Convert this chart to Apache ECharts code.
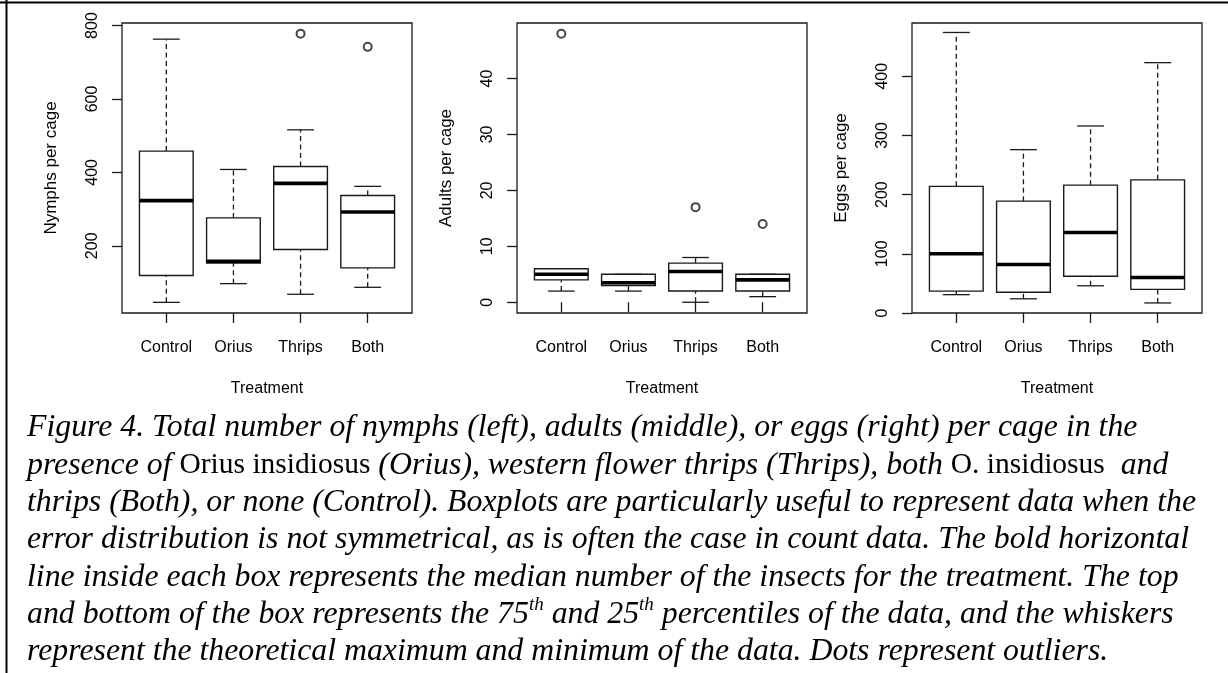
<!DOCTYPE html>
<html>
<head>
<meta charset="utf-8">
<script src="https://cdn.jsdelivr.net/npm/echarts@6/dist/echarts.min.js"></script>
<style>
html,body{margin:0;padding:0;background:#fff;}
#chart{width:1228px;height:673px;}
</style>
</head>
<body>
<div id="chart"></div>
<script>
// ---- data ----
var categories = ['Control', 'Orius', 'Thrips', 'Both'];

var nymphsLow    = [46, 97, 68, 87];
var nymphsQ1     = [119, 153, 190, 140];
var nymphsMedian = [323, 158, 370, 292];
var nymphsQ3     = [458, 276, 416, 337];
var nymphsHigh   = [763, 408, 516, 362];
var nymphsOutlierGroups = ['Thrips', 'Both'];
var nymphsOutlierValues = [778, 742];
var nymphsTicks = [200, 400, 600, 800];

var adultsLow    = [2, 2, 0, 1];
var adultsQ1     = [4, 3, 2, 2];
var adultsMedian = [5, 3.5, 5.5, 4];
var adultsQ3     = [6, 5, 7, 5];
var adultsHigh   = [6, 5, 8, 5];
var adultsOutlierGroups = ['Control', 'Thrips', 'Both'];
var adultsOutlierValues = [48, 17, 14];
var adultsTicks = [0, 10, 20, 30, 40];

var eggsLow    = [31, 24, 46, 17];
var eggsQ1     = [37, 35, 62, 40];
var eggsMedian = [100, 82, 136, 60];
var eggsQ3     = [214, 189, 216, 225];
var eggsHigh   = [474, 276, 316, 423];
var eggsOutlierGroups = [];
var eggsOutlierValues = [];
var eggsTicks = [0, 100, 200, 300, 400];

var panelTitles = ['Nymphs per cage', 'Adults per cage', 'Eggs per cage'];
var xTitle = 'Treatment';

var captionLines = [
  '{i|Figure 4. Total number of nymphs (left), adults (middle), or eggs (right) per cage in the}',
  '{i|presence of }{n|Orius insidiosus}{i| (Orius), western flower thrips (Thrips), both }{n|O. insidiosus}{i|  and}',
  '{i|thrips (Both), or none (Control). Boxplots are particularly useful to represent data when the}',
  '{i|error distribution is not symmetrical, as is often the case in count data. The bold horizontal}',
  '{i|line inside each box represents the median number of the insects for the treatment. The top}',
  '{i|and bottom of the box represents the 75}{s|th}{i| and 25}{s|th}{i| percentiles of the data, and the whiskers}',
  '{i|represent the theoretical maximum and minimum of the data. Dots represent outliers.}'
];

// ---- build ----
var INK = '#1a1a1a';
var FONT = 'Liberation Sans, Arial, sans-serif';

function boxRows(lo, q1, md, q3, hi) {
  return categories.map(function (c, i) { return [i + 1, lo[i], q1[i], md[i], q3[i], hi[i]]; });
}
function outRows(groups, vals) {
  return groups.map(function (g, i) { return [categories.indexOf(g) + 1, vals[i]]; });
}

var panels = [
  { rows: boxRows(nymphsLow, nymphsQ1, nymphsMedian, nymphsQ3, nymphsHigh), outs: outRows(nymphsOutlierGroups, nymphsOutlierValues), ticks: nymphsTicks, min: 17, max: 807, left: 122 },
  { rows: boxRows(adultsLow, adultsQ1, adultsMedian, adultsQ3, adultsHigh), outs: outRows(adultsOutlierGroups, adultsOutlierValues), ticks: adultsTicks, min: -1.92, max: 49.92, left: 517 },
  { rows: boxRows(eggsLow, eggsQ1, eggsMedian, eggsQ3, eggsHigh), outs: outRows(eggsOutlierGroups, eggsOutlierValues), ticks: eggsTicks, min: 0, max: 490, left: 912 }
];

function renderBox(params, api) {
  var x = api.value(0);
  var lo = api.value(1), q1 = api.value(2), md = api.value(3), q3 = api.value(4), hi = api.value(5);
  var pLo = api.coord([x, lo]), pQ1 = api.coord([x, q1]), pMd = api.coord([x, md]);
  var pQ3 = api.coord([x, q3]), pHi = api.coord([x, hi]);
  var half = api.size([0.4, 0])[0];
  var cap = api.size([0.2, 0])[0];
  var cx = pMd[0];
  var thin = { stroke: INK, lineWidth: 1.3, fill: null };
  var dashed = { stroke: INK, lineWidth: 1.3, lineDash: [5, 3.5], fill: null };
  return {
    type: 'group',
    children: [
      { type: 'line', shape: { x1: cx, y1: pQ3[1], x2: cx, y2: pHi[1] }, style: dashed },
      { type: 'line', shape: { x1: cx, y1: pLo[1], x2: cx, y2: pQ1[1] }, style: dashed },
      { type: 'line', shape: { x1: cx - cap, y1: pHi[1], x2: cx + cap, y2: pHi[1] }, style: thin },
      { type: 'line', shape: { x1: cx - cap, y1: pLo[1], x2: cx + cap, y2: pLo[1] }, style: thin },
      { type: 'rect', shape: { x: cx - half, y: pQ3[1], width: 2 * half, height: pQ1[1] - pQ3[1] },
        style: { stroke: INK, lineWidth: 1.4, fill: '#fff' } },
      { type: 'line', shape: { x1: cx - half, y1: pMd[1], x2: cx + half, y2: pMd[1] },
        style: { stroke: '#000', lineWidth: 3.6 } }
    ]
  };
}

var grids = [], xAxes = [], yAxes = [], series = [];
panels.forEach(function (p, i) {
  grids.push({ left: p.left, top: 23, width: 290, height: 290, show: true,
    borderColor: INK, borderWidth: 1.3, backgroundColor: 'transparent', containLabel: false });
  xAxes.push({
    type: 'value', gridIndex: i, min: 0.34, max: 4.66,
    axisLine: { show: false }, splitLine: { show: false },
    axisTick: { show: true, length: 10, customValues: [1, 2, 3, 4], lineStyle: { color: INK, width: 1.3 } },
    axisLabel: { show: true, customValues: [1, 2, 3, 4], margin: 27, fontSize: 16, color: '#000', fontFamily: FONT,
      formatter: function (v) { return categories[Math.round(v) - 1]; } },
    name: xTitle, nameLocation: 'middle', nameGap: 68,
    nameTextStyle: { fontSize: 16, color: '#000', fontFamily: FONT }
  });
  yAxes.push({
    type: 'value', gridIndex: i, min: p.min, max: p.max,
    axisLine: { show: false }, splitLine: { show: false },
    axisTick: { show: true, length: 10, customValues: p.ticks, lineStyle: { color: INK, width: 1.3 } },
    axisLabel: { show: true, customValues: p.ticks, rotate: 90, margin: 21, fontSize: 16, color: '#000', fontFamily: FONT },
    name: panelTitles[i], nameLocation: 'middle', nameRotate: 90, nameGap: 62,
    nameTextStyle: { fontSize: 17, color: '#000', fontFamily: FONT }
  });
  series.push({
    type: 'custom', xAxisIndex: i, yAxisIndex: i, clip: false,
    renderItem: renderBox, data: p.rows, silent: true,
    encode: { x: 0, y: [1, 2, 3, 4, 5] }
  });
  series.push({
    type: 'scatter', xAxisIndex: i, yAxisIndex: i, data: p.outs, silent: true,
    symbol: 'emptyCircle', symbolSize: 8,
    itemStyle: { color: INK, borderColor: INK, borderWidth: 1.2 }
  });
});

var capFont = 'Liberation Serif, Times New Roman, serif';
var capSize = 31.8;
var capLH = 38;
var capRich = {
  i: { fontFamily: capFont, fontSize: capSize, fontStyle: 'italic', fill: '#000', lineHeight: capLH, verticalAlign: 'middle' },
  n: { fontFamily: capFont, fontSize: 29.5, fontStyle: 'normal', fill: '#000', lineHeight: capLH, verticalAlign: 'middle' },
  s: { fontFamily: capFont, fontSize: 19, fontStyle: 'italic', fill: '#000', lineHeight: capLH, verticalAlign: 'top' }
};
var graphics = [
  { type: 'line', shape: { x1: 0, y1: 2.5, x2: 1228, y2: 2.5 }, style: { stroke: '#000', lineWidth: 2 } },
  { type: 'line', shape: { x1: 6.5, y1: 0, x2: 6.5, y2: 673 }, style: { stroke: '#000', lineWidth: 2 } }
];
captionLines.forEach(function (t, k) {
  graphics.push({
    type: 'text', x: 27, y: 428 + k * 37.3,
    style: {
      text: t, fill: '#000', fontFamily: capFont, fontSize: capSize, fontStyle: 'italic',
      verticalAlign: 'middle', align: 'left', rich: capRich
    }
  });
});

var chart = echarts.init(document.getElementById('chart'), null, { renderer: 'canvas', width: 1228, height: 673 });
chart.setOption({
  animation: false,
  backgroundColor: '#fff',
  grid: grids, xAxis: xAxes, yAxis: yAxes, series: series,
  graphic: graphics
});
</script>
</body>
</html>
